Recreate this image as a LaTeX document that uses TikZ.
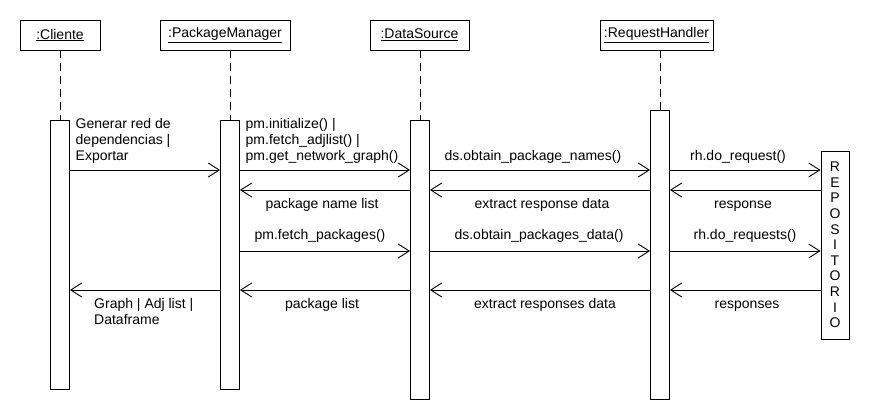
\documentclass[tikz,border=0pt]{standalone}
\usepackage{fontspec}
\setmainfont{Liberation Sans}
\usetikzlibrary{arrows.meta}
\begin{document}
\begin{tikzpicture}[x=1pt,y=-1pt,
  every node/.style={font=\fontsize{14}{16}\selectfont, inner sep=0pt},
  head/.style={draw, line width=0.9pt, fill=white, minimum height=30pt},
  bar/.style={draw, line width=0.9pt, fill=white, minimum width=19pt},
  life/.style={line width=0.9pt, dash pattern=on 8pt off 5pt},
  msg/.style={line width=0.9pt, -{Straight Barb[length=11pt,width=14pt,line width=0.9pt]}},
  lbl/.style={anchor=base},
  mlbl/.style={anchor=north west, align=left}]
\useasboundingbox[fill=white] (0,0) rectangle (870,420);

% heads
\node[head, minimum width=80pt]  (ch)  at (60,35)    {\underline{:Cliente}};
\node[head, minimum width=130pt] (pmh) at (225,35)   {\underline{:PackageManager}};
\node[head, minimum width=99pt]  (dsh) at (419.5,35) {\underline{:DataSource}};
\node[head, minimum width=113pt] (rhh) at (656.5,35) {\underline{:RequestHandler}};

% activation bars
\node[bar, minimum height=269pt] (cb)  at (60,254.5)  {};
\node[bar, minimum height=269pt] (pmb) at (230,254.5) {};
\node[bar, minimum height=279pt] (dsb) at (420,259.5) {};
\node[bar, minimum height=289pt] (rhb) at (660,254.5) {};

% repository
\node[draw, line width=0.9pt, minimum width=28pt, minimum height=188pt, align=center,
      font=\fontsize{14}{15.6}\selectfont] (repo) at (835,245)
  {R\\E\\P\\O\\S\\I\\T\\O\\R\\I\\O};

% lifelines
\draw[life] (cb.north |- ch.south) -- (cb.north);
\draw[life] (pmb.north |- pmh.south) -- (pmb.north);
\draw[life] (dsb.north |- dsh.south) -- (dsb.north);
\draw[life] (rhb.north |- rhh.south) -- (rhb.north);

% message levels
\coordinate (m1) at (0,170);
\coordinate (m2) at (0,190);
\coordinate (m3) at (0,251);
\coordinate (m4) at (0,290);

% row 1
\draw[msg] (cb.east |- m1) -- (pmb.west |- m1);
\draw[msg] (pmb.east |- m1) -- (dsb.west |- m1);
\draw[msg] (dsb.east |- m1) -- (rhb.west |- m1);
\draw[msg] (rhb.east |- m1) -- (repo.west |- m1);
% row 2
\draw[msg] (repo.west |- m2) -- (rhb.east |- m2);
\draw[msg] (rhb.west |- m2) -- (dsb.east |- m2);
\draw[msg] (dsb.west |- m2) -- (pmb.east |- m2);
% row 3
\draw[msg] (pmb.east |- m3) -- (dsb.west |- m3);
\draw[msg] (dsb.east |- m3) -- (rhb.west |- m3);
\draw[msg] (rhb.east |- m3) -- (repo.west |- m3);
% row 4
\draw[msg] (repo.west |- m4) -- (rhb.east |- m4);
\draw[msg] (rhb.west |- m4) -- (dsb.east |- m4);
\draw[msg] (dsb.west |- m4) -- (pmb.east |- m4);
\draw[msg] (pmb.west |- m4) -- (cb.east |- m4);

% labels
\node[mlbl] (l1) at (75.5,118.5)  {Generar red de\\dependencias |\\Exportar};
\node[mlbl] (l2) at (245.5,118.5) {pm.initialize() |\\pm.fetch\_adjlist() |\\pm.get\_network\_graph()};
\node[lbl] (l3) at (533,160)  {ds.obtain\_package\_names()};
\node[lbl] (l4) at (738,160)  {rh.do\_request()};
\node[lbl] (l5) at (743,208)  {response};
\node[lbl] (l6) at (542,208)  {extract response data};
\node[lbl] (l7) at (322,208)  {package name list};
\node[lbl] (l8) at (320,239)  {pm.fetch\_packages()};
\node[lbl] (l9) at (539,239)  {ds.obtain\_packages\_data()};
\node[lbl] (l10) at (745,239) {rh.do\_requests()};
\node[lbl] (l11) at (747,308) {responses};
\node[lbl] (l12) at (545,308) {extract responses data};
\node[lbl] (l13) at (322,308) {package list};
\node[mlbl] (l14) at (94,298) {Graph | Adj list |\\Dataframe};
\end{tikzpicture}
\end{document}
